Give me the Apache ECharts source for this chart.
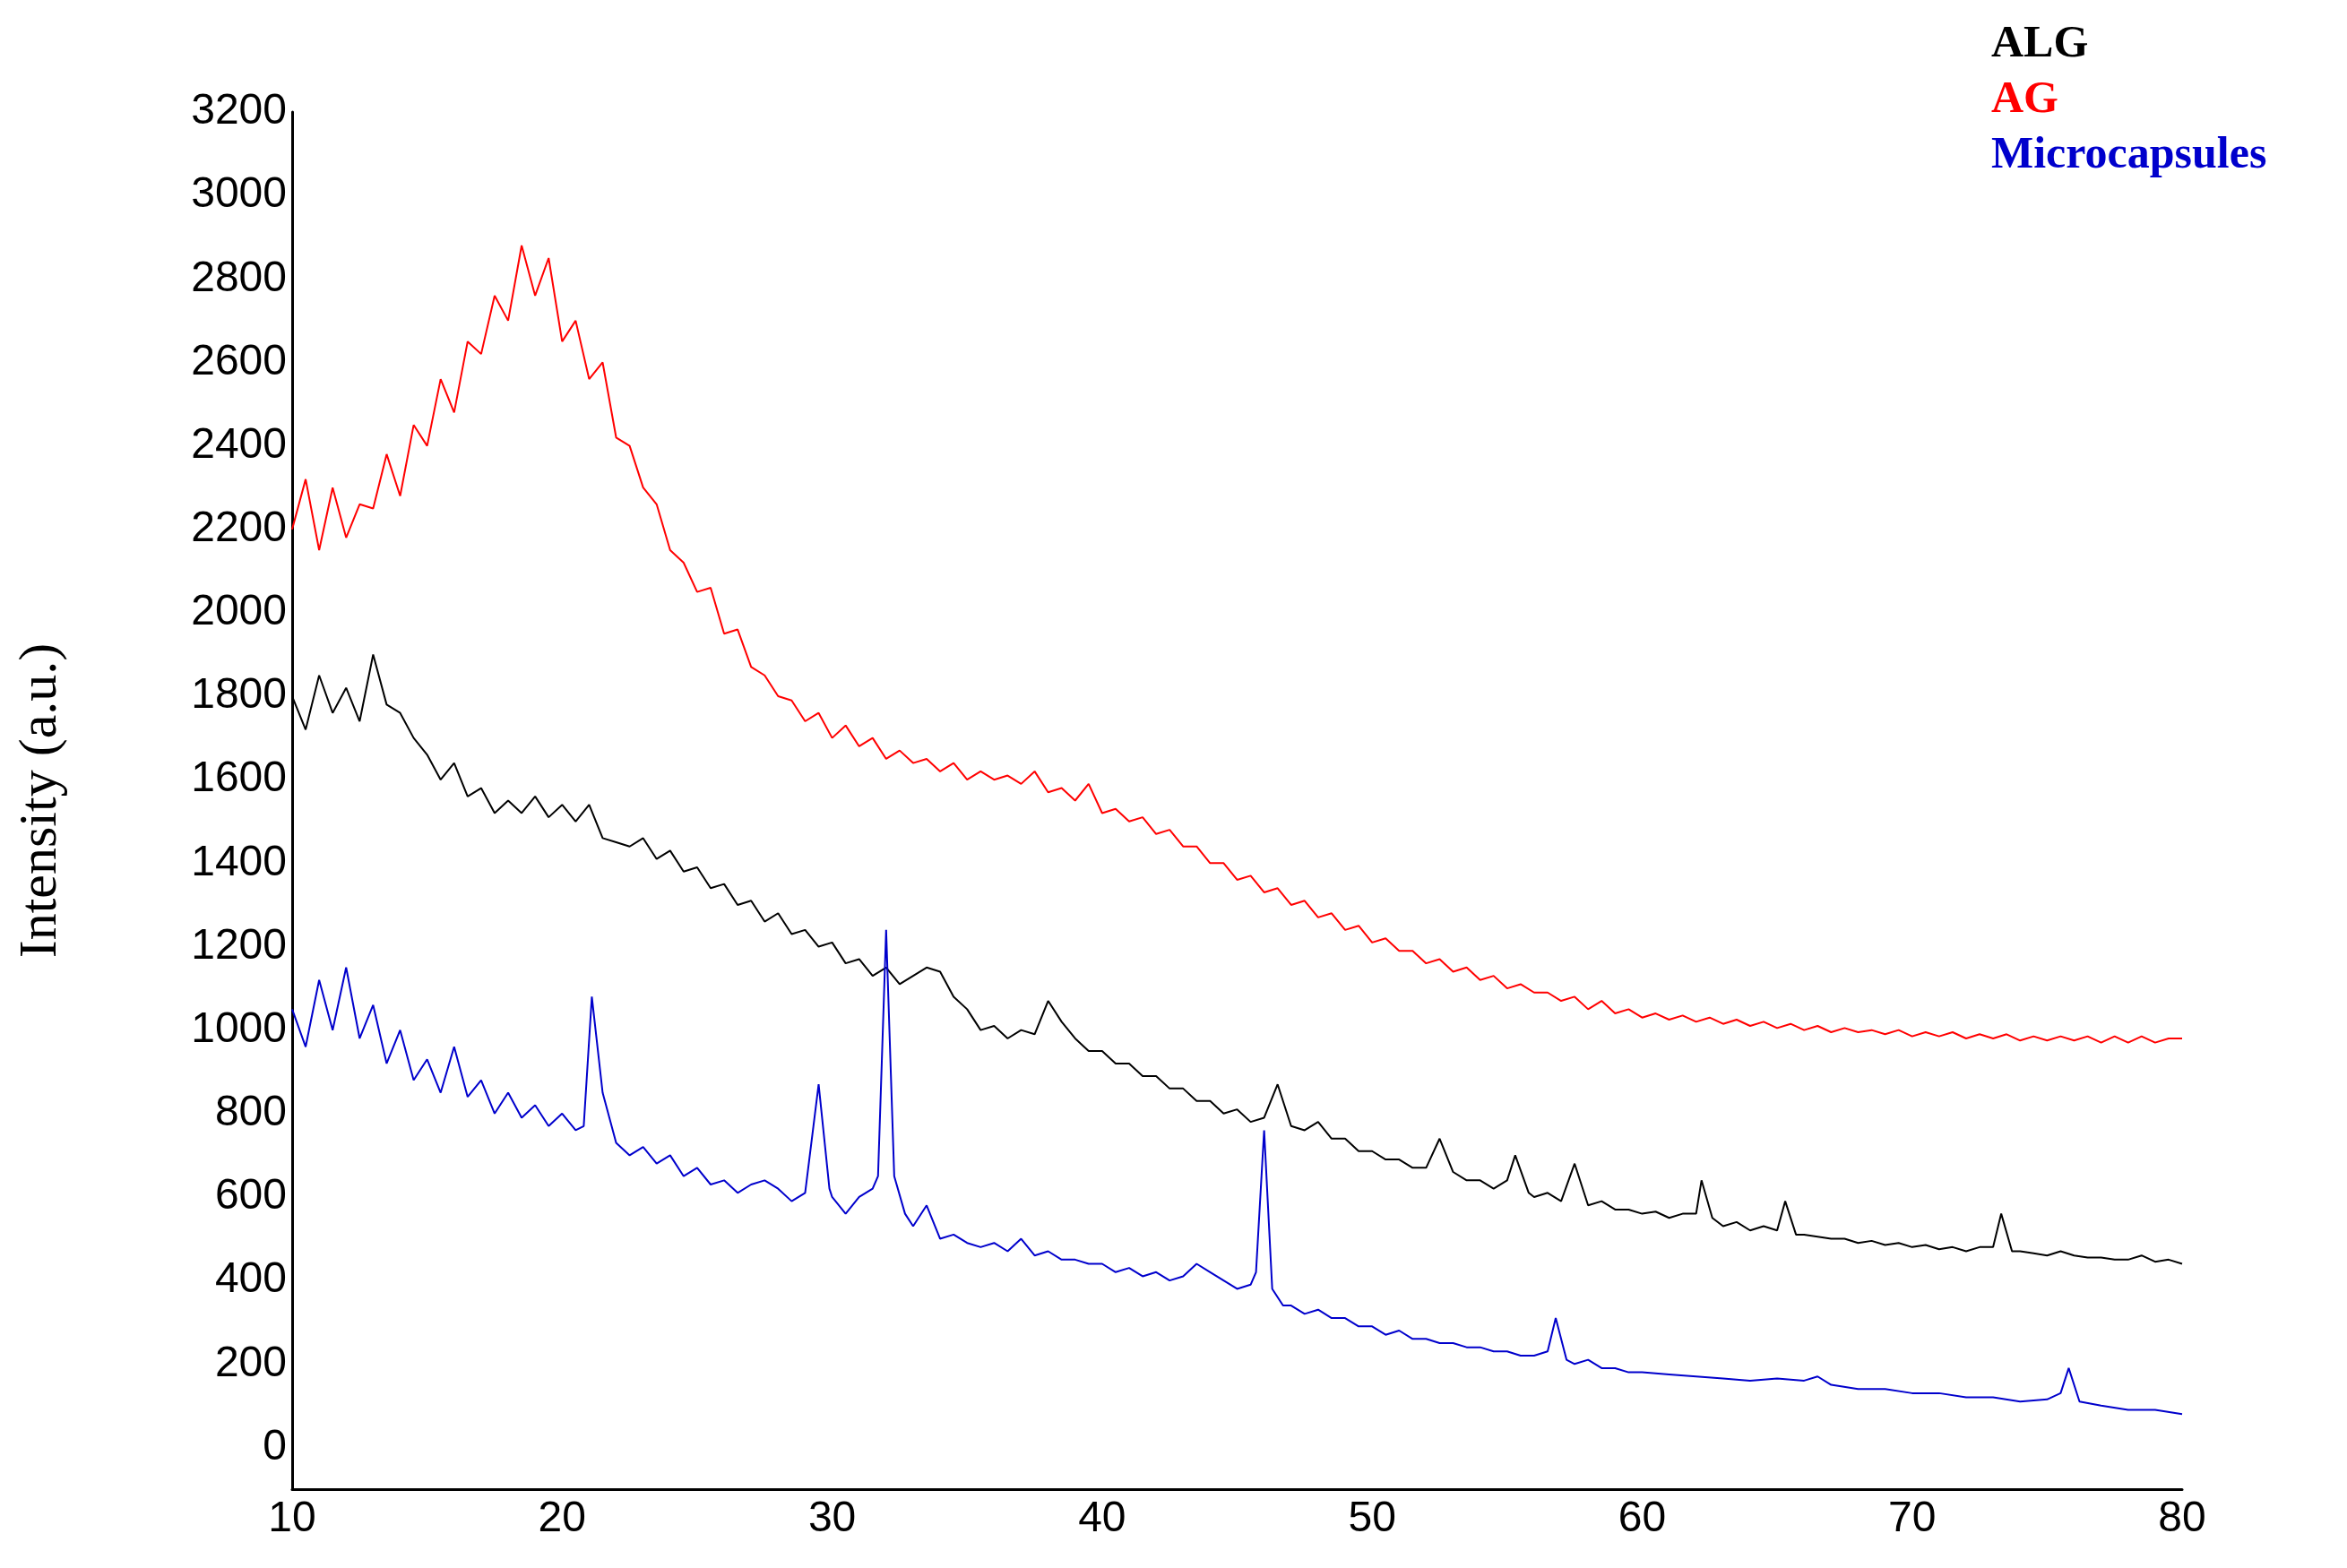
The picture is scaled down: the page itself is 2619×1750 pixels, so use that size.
<!DOCTYPE html>
<html><head><meta charset="utf-8">
<script src="https://cdn.jsdelivr.net/npm/echarts@6/dist/echarts.min.js"></script>
<style>html,body{margin:0;padding:0;background:#fff}#c{width:2619px;height:1750px}</style>
</head><body><div id="c"></div>
<script>
const seriesNames = ['ALG', 'AG', 'Microcapsules'];
const seriesColors = ['#000000', '#ff0000', '#0000cc'];
const yTickLabels = [0,200,400,600,800,1000,1200,1400,1600,1800,2000,2200,2400,2600,2800,3000,3200];
const agData = [[10,2200],[10.5,2320],[11,2150],[11.5,2300],[12,2180],[12.5,2260],[13,2250],[13.5,2380],[14,2280],[14.5,2450],[15,2400],[15.5,2560],[16,2480],[16.5,2650],[17,2620],[17.5,2760],[18,2700],[18.5,2880],[19,2760],[19.5,2850],[20,2650],[20.5,2700],[21,2560],[21.5,2600],[22,2420],[22.5,2400],[23,2300],[23.5,2260],[24,2150],[24.5,2120],[25,2050],[25.5,2060],[26,1950],[26.5,1960],[27,1870],[27.5,1850],[28,1800],[28.5,1790],[29,1740],[29.5,1760],[30,1700],[30.5,1730],[31,1680],[31.5,1700],[32,1650],[32.5,1670],[33,1640],[33.5,1650],[34,1620],[34.5,1640],[35,1600],[35.5,1620],[36,1600],[36.5,1610],[37,1590],[37.5,1620],[38,1570],[38.5,1580],[39,1550],[39.5,1590],[40,1520],[40.5,1530],[41,1500],[41.5,1510],[42,1470],[42.5,1480],[43,1440],[43.5,1440],[44,1400],[44.5,1400],[45,1360],[45.5,1370],[46,1330],[46.5,1340],[47,1300],[47.5,1310],[48,1270],[48.5,1280],[49,1240],[49.5,1250],[50,1210],[50.5,1220],[51,1190],[51.5,1190],[52,1160],[52.5,1170],[53,1140],[53.5,1150],[54,1120],[54.5,1130],[55,1100],[55.5,1110],[56,1090],[56.5,1090],[57,1070],[57.5,1080],[58,1050],[58.5,1070],[59,1040],[59.5,1050],[60,1030],[60.5,1040],[61,1025],[61.5,1035],[62,1020],[62.5,1030],[63,1015],[63.5,1025],[64,1010],[64.5,1020],[65,1005],[65.5,1015],[66,1000],[66.5,1010],[67,995],[67.5,1005],[68,995],[68.5,1000],[69,990],[69.5,1000],[70,985],[70.5,995],[71,985],[71.5,995],[72,980],[72.5,990],[73,980],[73.5,990],[74,975],[74.5,985],[75,975],[75.5,985],[76,975],[76.5,985],[77,970],[77.5,985],[78,970],[78.5,985],[79,970],[79.5,980],[80,980]];
const algData = [[10,1800],[10.5,1720],[11,1850],[11.5,1760],[12,1820],[12.5,1740],[13,1900],[13.5,1780],[14,1760],[14.5,1700],[15,1660],[15.5,1600],[16,1640],[16.5,1560],[17,1580],[17.5,1520],[18,1550],[18.5,1520],[19,1560],[19.5,1510],[20,1540],[20.5,1500],[21,1540],[21.5,1460],[22,1450],[22.5,1440],[23,1460],[23.5,1410],[24,1430],[24.5,1380],[25,1390],[25.5,1340],[26,1350],[26.5,1300],[27,1310],[27.5,1260],[28,1280],[28.5,1230],[29,1240],[29.5,1200],[30,1210],[30.5,1160],[31,1170],[31.5,1130],[32,1150],[32.5,1110],[33,1130],[33.5,1150],[34,1140],[34.5,1080],[35,1050],[35.5,1000],[36,1010],[36.5,980],[37,1000],[37.5,990],[38,1070],[38.5,1020],[39,980],[39.5,950],[40,950],[40.5,920],[41,920],[41.5,890],[42,890],[42.5,860],[43,860],[43.5,830],[44,830],[44.5,800],[45,810],[45.5,780],[46,790],[46.5,870],[47,770],[47.5,760],[48,780],[48.5,740],[49,740],[49.5,710],[50,710],[50.5,690],[51,690],[51.5,670],[52,670],[52.5,740],[53,660],[53.5,640],[54,640],[54.5,620],[55,640],[55.3,700],[55.8,610],[56,600],[56.5,610],[57,590],[57.5,680],[58,580],[58.5,590],[59,570],[59.5,570],[60,560],[60.5,565],[61,550],[61.5,560],[62,560],[62.2,640],[62.6,550],[63,530],[63.5,540],[64,520],[64.5,530],[65,520],[65.3,590],[65.7,510],[66,510],[66.5,505],[67,500],[67.5,500],[68,490],[68.5,495],[69,485],[69.5,490],[70,480],[70.5,485],[71,475],[71.5,480],[72,470],[72.5,480],[73,480],[73.3,560],[73.7,470],[74,470],[74.5,465],[75,460],[75.5,470],[76,460],[76.5,455],[77,455],[77.5,450],[78,450],[78.5,460],[79,445],[79.5,450],[80,440]];
const mcData = [[10,1050],[10.5,960],[11,1120],[11.5,1000],[12,1150],[12.5,980],[13,1060],[13.5,920],[14,1000],[14.5,880],[15,930],[15.5,850],[16,960],[16.5,840],[17,880],[17.5,800],[18,850],[18.5,790],[19,820],[19.5,770],[20,800],[20.5,760],[20.8,770],[21.1,1080],[21.5,850],[22,730],[22.5,700],[23,720],[23.5,680],[24,700],[24.5,650],[25,670],[25.5,630],[26,640],[26.5,610],[27,630],[27.5,640],[28,620],[28.5,590],[29,610],[29.5,870],[29.9,620],[30,600],[30.5,560],[31,600],[31.5,620],[31.7,650],[32,1240],[32.3,650],[32.7,560],[33,530],[33.5,580],[34,500],[34.5,510],[35,490],[35.5,480],[36,490],[36.5,470],[37,500],[37.5,460],[38,470],[38.5,450],[39,450],[39.5,440],[40,440],[40.5,420],[41,430],[41.5,410],[42,420],[42.5,400],[43,410],[43.5,440],[44,420],[44.5,400],[45,380],[45.5,390],[45.7,420],[46,760],[46.3,380],[46.7,340],[47,340],[47.5,320],[48,330],[48.5,310],[49,310],[49.5,290],[50,290],[50.5,270],[51,280],[51.5,260],[52,260],[52.5,250],[53,250],[53.5,240],[54,240],[54.5,230],[55,230],[55.5,220],[56,220],[56.5,230],[56.8,310],[57.2,210],[57.5,200],[58,210],[58.5,190],[59,190],[59.5,180],[60,180],[61,175],[62,170],[63,165],[64,160],[65,165],[66,160],[66.5,170],[67,150],[68,140],[69,140],[70,130],[71,130],[72,120],[73,120],[74,110],[75,115],[75.5,130],[75.8,190],[76.2,110],[77,100],[78,90],[79,90],[80,80]];

const chart = echarts.init(document.getElementById('c'));
const legendY = [55, 117, 179];
chart.setOption({
  backgroundColor: '#fff',
  animation: false,
  grid: {left: 326, right: 184, top: 125, bottom: 88},
  xAxis: {type: 'value', min: 10, max: 80, interval: 10,
    axisLine: {onZero: false, lineStyle: {color: '#000', width: 3}},
    axisTick: {show: false}, splitLine: {show: false},
    axisLabel: {color: '#000', fontSize: 48, fontFamily: 'Liberation Sans', margin: 10}},
  yAxis: {type: 'value', min: -100, max: 3200, interval: 100,
    name: 'Intensity (a.u.)', nameLocation: 'middle', nameGap: 250, nameRotate: 90,
    nameTextStyle: {fontFamily: 'Liberation Serif', fontSize: 60, color: '#000'},
    axisLine: {show: true, lineStyle: {color: '#000', width: 3}},
    axisTick: {show: false}, splitLine: {show: false},
    axisLabel: {color: '#000', fontSize: 48, fontFamily: 'Liberation Sans', margin: 6,
      formatter: v => yTickLabels.includes(v) ? String(v) : ''}},
  graphic: seriesNames.map((n, i) => ({type: 'text', left: 2222, top: legendY[i] - 30,
    style: {text: n, fill: seriesColors[i], font: 'bold 50px "Liberation Serif"'}})),
  series: [
    {name: 'AG', type: 'line', data: agData, showSymbol: false, lineStyle: {color: seriesColors[1], width: 2}},
    {name: 'ALG', type: 'line', data: algData, showSymbol: false, lineStyle: {color: seriesColors[0], width: 2}},
    {name: 'Microcapsules', type: 'line', data: mcData, showSymbol: false, lineStyle: {color: seriesColors[2], width: 2}}
  ]
});
</script></body></html>
